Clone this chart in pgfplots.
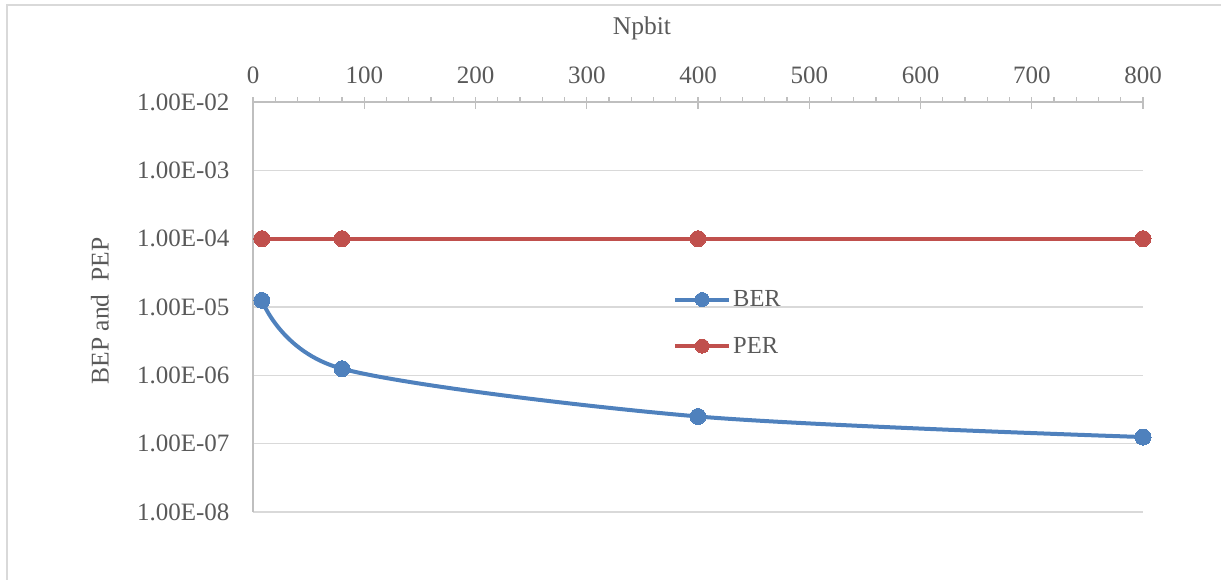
\documentclass[border=0pt]{standalone}
\usepackage{pgfplots}
\pgfplotsset{compat=1.18}
\usepackage{fontspec}
\setmainfont{Liberation Serif}
\definecolor{txt}{HTML}{595959}
\definecolor{axln}{HTML}{BFBFBF}
\definecolor{grd}{HTML}{D9D9D9}
\definecolor{ber}{HTML}{4F81BD}
\definecolor{per}{HTML}{C0504D}
\begin{document}
\begin{tikzpicture}[x=1pt,y=1pt]
\path[use as bounding box] (0,0) rectangle (1221,580);
\draw[grd, line width=2pt] (7,-5) -- (7,575) -- (1226,575);
\begin{axis}[
  at={(253pt,68pt)}, anchor=south west, scale only axis,
  width=890pt, height=410pt,
  xmin=0, xmax=800, ymin=1e-8, ymax=1e-2, ymode=log,
  axis x line*=top, axis y line*=left,
  x axis line style={-, draw=axln, line width=1.6pt},
  y axis line style={-, draw=axln, line width=1.6pt},
  xtick={0,100,...,800}, minor x tick num=4,
  tick align=outside,
  major tick length=12pt, minor tick length=5pt,
  xtick style={draw=axln, line width=1.4pt},
  every major x tick/.append style={yshift=-7pt},
  ytick={1e-8,1e-7,1e-6,1e-5,1e-4,1e-3,1e-2},
  yticklabels={1.00E-08,1.00E-07,1.00E-06,1.00E-05,1.00E-04,1.00E-03,1.00E-02},
  ytick style={draw=none},
  ymajorgrids, major grid style={draw=grd, line width=1.6pt},
  /pgf/number format/assume math mode=true,
  tick label style={font=\fontsize{25}{28}\selectfont, text=txt},
  xticklabel style={yshift=3pt},
  yticklabel style={xshift=-8pt},
  xlabel={Npbit}, ylabel={BEP and\ \ PEP},
  label style={font=\fontsize{25.5}{28}\selectfont, text=txt},
  xlabel style={at={(axis description cs:0.437,1.18)}, anchor=center},
  ylabel style={at={(axis description cs:-0.172,0.49)}, anchor=center, rotate=0},
  clip=false,
  legend style={at={(axis description cs:0.4719,0.545)}, anchor=north west,
    draw=none, fill=none, inner sep=0pt, row sep=25pt,
    font=\fontsize{24.5}{28}\selectfont, text=txt,
    /tikz/every even column/.append style={column sep=0pt}},
  legend cell align=left,
  legend image code/.code={\draw[mark repeat=2,mark phase=2,#1,mark size=7pt] plot coordinates {(0pt,0pt) (27pt,0pt) (54pt,0pt)};},
]
\addplot[ber, line width=4pt, smooth, mark=*, mark size=8pt, mark options={solid, fill=ber, draw=ber, line width=0pt}]
  coordinates {(8,1.25e-5) (80,1.25e-6) (400,2.5e-7) (800,1.25e-7)};
\addlegendentry{BER}
\addplot[per, line width=4pt, mark=*, mark size=8pt, mark options={solid, fill=per, draw=per, line width=0pt}]
  coordinates {(8,1e-4) (80,1e-4) (400,1e-4) (800,1e-4)};
\addlegendentry{PER}
\end{axis}
\end{tikzpicture}
\end{document}
